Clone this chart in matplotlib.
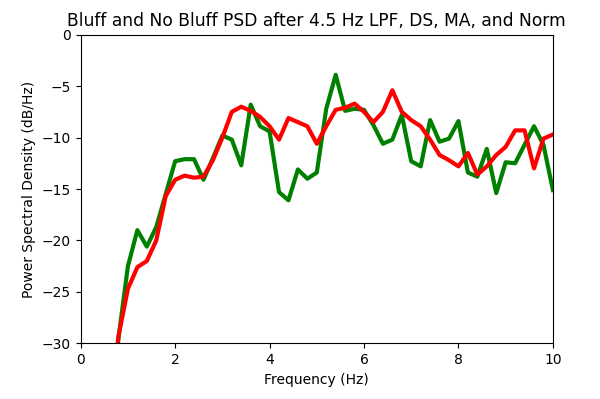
import matplotlib
matplotlib.use("Agg")
import matplotlib.pyplot as plt

# frequency bins (Hz)
freqs = [0.6, 0.8, 1.0, 1.2, 1.4, 1.6, 1.8, 2.0, 2.2, 2.4, 2.6, 2.8,
         3.0, 3.2, 3.4, 3.6, 3.8, 4.0, 4.2, 4.4, 4.6, 4.8, 5.0, 5.2,
         5.4, 5.6, 5.8, 6.0, 6.2, 6.4, 6.6, 6.8, 7.0, 7.2, 7.4, 7.6,
         7.8, 8.0, 8.2, 8.4, 8.6, 8.8, 9.0, 9.2, 9.4, 9.6, 9.8, 10.0]

# bluff PSD (dB/Hz)
psd_bluff = [-40.0, -29.5, -22.5, -19.0, -20.6, -18.7, -15.5, -12.3, -12.1, -12.1, -14.1, -12.0,
             -9.8, -10.2, -12.7, -6.8, -8.9, -9.4, -15.3, -16.1, -13.1, -14.0, -13.4, -7.2,
             -3.9, -7.4, -7.2, -7.3, -8.8, -10.6, -10.2, -7.8, -12.3, -12.8, -8.3, -10.4,
             -10.1, -8.4, -13.4, -13.8, -11.1, -15.4, -12.4, -12.5, -10.7, -8.9, -10.7, -15.1]

# no bluff PSD (dB/Hz)
psd_no_bluff = [-38.0, -29.3, -24.7, -22.6, -22.0, -20.0, -15.7, -14.1, -13.7, -13.9, -13.8, -12.2,
                -10.0, -7.5, -7.0, -7.4, -8.0, -8.9, -10.2, -8.1, -8.5, -8.9, -10.6, -8.9,
                -7.3, -7.1, -6.7, -7.5, -8.5, -7.5, -5.4, -7.5, -8.3, -8.9, -10.2, -11.7,
                -12.2, -12.8, -11.5, -13.6, -12.8, -11.7, -10.9, -9.3, -9.3, -13.0, -10.1, -9.7]

fig = plt.figure(figsize=(6, 3.99), dpi=100)
ax = fig.add_axes([0.1345, 0.1396, 0.787, 0.7734])

ax.plot(freqs, psd_bluff, color="green", linewidth=3)
ax.plot(freqs, psd_no_bluff, color="red", linewidth=3)

ax.set_xlim(0, 10)
ax.set_ylim(-30, 0)
ax.set_title("Bluff and No Bluff PSD after 4.5 Hz LPF, DS, MA, and Norm", fontsize=12.3)
ax.set_xlabel("Frequency (Hz)")
ax.set_ylabel("Power Spectral Density (dB/Hz)")

fig.savefig("out.png", dpi=100)
